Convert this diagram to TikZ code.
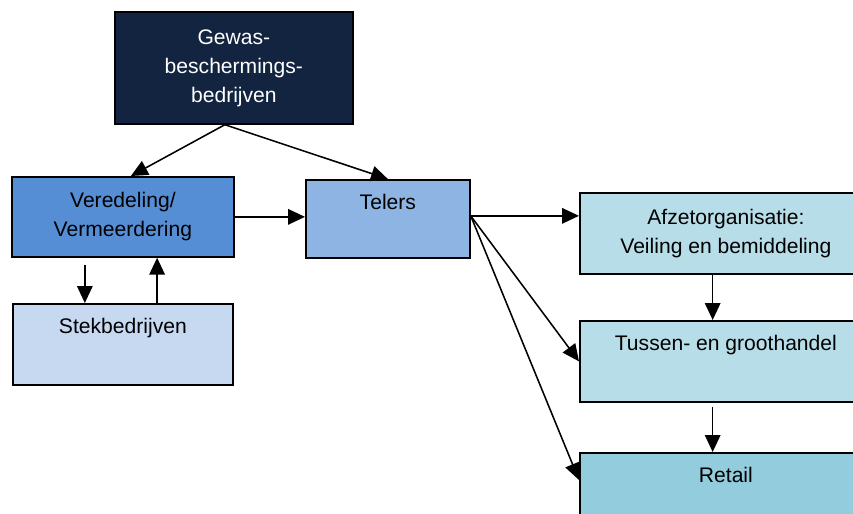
\documentclass[tikz,border=0pt]{standalone}
\usepackage{fontspec}
\setmainfont{Liberation Sans}
\usetikzlibrary{arrows.meta,calc}
\begin{document}
\begin{tikzpicture}[x=0.025cm,y=-0.025cm,
  blok/.style={draw=black,line width=1.2pt,anchor=north west,inner sep=0pt,align=center,font=\fontsize{15}{20.6}\selectfont},
  boven/.style={text height=0.75cm,text depth=#1},
  pijl/.style={-{Triangle[length=12pt,width=11pt]},line width=1.1pt}]
\definecolor{nacht}{HTML}{12243F}
\definecolor{koningsblauw}{HTML}{558ED5}
\definecolor{hemelblauw}{HTML}{8DB4E2}
\definecolor{lichtblauw}{HTML}{C6D9F1}
\definecolor{ijsblauw}{HTML}{B7DEE8}
\definecolor{zeeblauw}{HTML}{93CDDD}
\useasboundingbox (0,0) rectangle (853,513);
\clip (0,0) rectangle (853,513);
% bovenste rij
\node [blok,fill=nacht,text=white,minimum width=5.95cm,minimum height=2.8cm] (gewas) at (114,11) {Gewas-\\beschermings-\\bedrijven};
\node [blok,fill=koningsblauw,minimum width=5.55cm,minimum height=2cm] (veredeling) at (11,176) {Veredeling/\\Vermeerdering};
\node [blok,fill=hemelblauw,minimum width=4.1cm,boven=1.2cm] (telers) at (305,179) {Telers};
\node [blok,fill=lichtblauw,minimum width=5.5cm,boven=1.275cm] (stek) at (12,303) {Stekbedrijven};
% keten rechts
\node [blok,fill=ijsblauw,minimum width=7.3cm,minimum height=2.025cm] (afzet) at (579,192) {Afzetorganisatie:\\Veiling en bemiddeling};
\node [blok,fill=ijsblauw,minimum width=7.3cm,boven=1.275cm] (tussen) at (579,320) {Tussen- en groothandel};
\node [blok,fill=zeeblauw,minimum width=7.3cm,boven=1.275cm] (retail) at (579,452) {Retail};
% pijlen
\coordinate (splits) at ([xshift=-0.225cm]gewas.south);
\draw [pijl] (splits) -- ([xshift=0.2cm]veredeling.north);
\draw [pijl] (splits) -- (telers.north);
\draw [pijl] (veredeling.east) -- (veredeling.east -| telers.west);
\coordinate (omlaag) at ($(veredeling.south west)!0.33!(veredeling.south east)$);
\coordinate (omhoog) at ($(veredeling.south west)!0.653!(veredeling.south east)$);
\draw [pijl,shorten <=5pt] (omlaag) -- (omlaag |- stek.north);
\draw [pijl] (omhoog |- stek.north) -- (omhoog);
\coordinate (waaier) at ([yshift=0.075cm]telers.east);
\draw [pijl] (waaier) -- (waaier -| afzet.west);
\draw [pijl] (waaier) -- (tussen.west);
\draw [pijl] (waaier) -- ($(retail.north west)+(0,28)$);
\coordinate (kolom) at ($(afzet.south west)!0.455!(afzet.south east)$);
\draw [pijl] (kolom) -- (kolom |- tussen.north);
\draw [pijl,shorten <=3pt] (kolom |- tussen.south) -- (kolom |- retail.north);
\end{tikzpicture}
\end{document}
